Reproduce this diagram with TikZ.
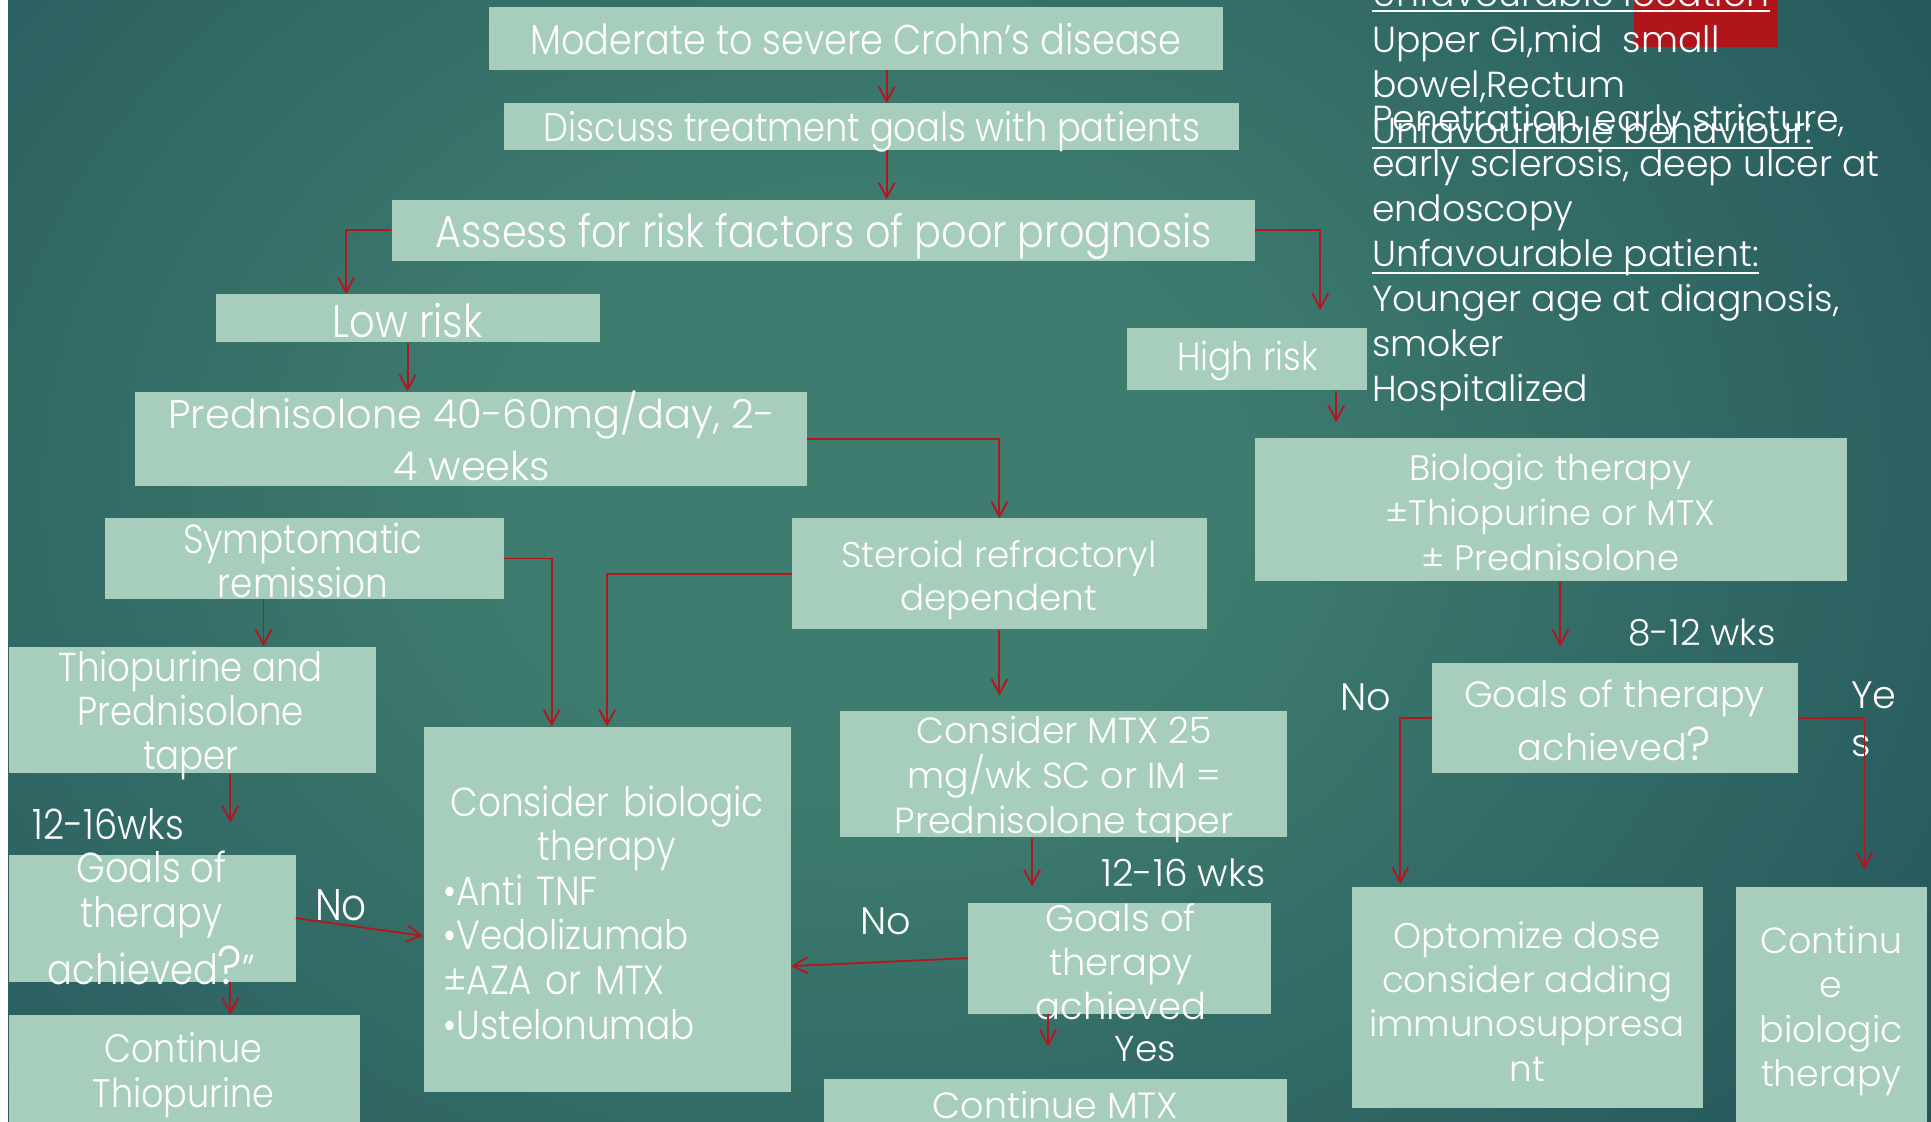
\documentclass[tikz,border=0pt]{standalone}
\usepackage{graphicx}
\usepackage{fontspec}
\setmainfont{Poppins Light}
\newfontfamily\narrowfont{Poppins Light}[FakeStretch=0.88]
\usetikzlibrary{arrows.meta,calc}

\definecolor{boxfill}{HTML}{A7CDBC}
\definecolor{arrowred}{HTML}{B3161C}
\definecolor{tagred}{HTML}{B0151A}
\definecolor{bglight}{HTML}{3E7C6F}
\definecolor{bgmid}{HTML}{2B6060}
\definecolor{bgdeep}{HTML}{1B4852}
\definecolor{bgdark}{HTML}{10333F}

\pgfdeclareradialshading{backdrop}{\pgfpoint{0bp}{0bp}}{%
  color(0bp)=(bglight); color(8bp)=(bglight); color(24bp)=(bgmid);
  color(36bp)=(bgdeep); color(46bp)=(bgdark); color(50bp)=(bgdark)}

% font helpers: regular and horizontally condensed
\newcommand\nf[2]{\fontsize{#1}{#2}\selectfont}
\newcommand\cf[2]{\narrowfont\fontsize{#1}{#2}\selectfont}
\newcommand\bq{\scalebox{1.3}{?}}

\tikzset{
  box/.style={fill=boxfill, draw=none, inner sep=0pt},
  txt/.style={text=white, align=center, inner sep=0pt},
  side/.style={text=white, inner sep=0pt, anchor=base west, font=\nf{29.4}{36.5}},
  uline/.style={draw=white, line width=1.6pt},
  arr/.style={draw=arrowred, line width=1.5pt,
    -{Straight Barb[length=12pt,width=13pt,line width=1.5pt]}},
}

\begin{document}
\begin{tikzpicture}[x=1pt,y=-1pt]
\useasboundingbox (0,0) rectangle (1568,911);
\fill[white] (0,0) rectangle (1568,911);
\begin{scope}
  \clip (6.5,0) rectangle (1568,911);
  \shade[shading=backdrop] (-200,-320) rectangle (1600,1120);
\end{scope}

\begin{scope}
\clip (0,0) rectangle (1568,911);

% ---- boxes ----
\node[box, minimum width=596pt, minimum height=51pt]  (mod)    at (695,31.5) {};
\node[box, minimum width=597pt, minimum height=38pt]  (disc)   at (707.5,103) {};
\node[box, minimum width=701pt, minimum height=50pt]  (assess) at (668.5,187) {};
\node[box, minimum width=312pt, minimum height=39pt]  (low)    at (331,258.5) {};
\node[box, minimum width=195pt, minimum height=51pt]  (high)   at (1012.5,291.5) {};
\node[box, minimum width=545pt, minimum height=77pt]  (pred)   at (382.5,356.5) {};
\node[box, minimum width=324pt, minimum height=65pt]  (symp)   at (247,453.5) {};
\node[box, minimum width=337pt, minimum height=90pt]  (ster)   at (811.5,466) {};
\node[box, minimum width=481pt, minimum height=116pt] (bio)    at (1259.5,414) {};
\node[box, minimum width=298pt, minimum height=103pt] (thio)   at (156,576.5) {};
\node[box, minimum width=298pt, minimum height=297pt] (cbio)   at (493,738.5) {};
\node[box, minimum width=363pt, minimum height=103pt] (cmtx)   at (863.5,628.5) {};
\node[box, minimum width=233pt, minimum height=103pt] (gleft)  at (123.5,745.5) {};
\node[box, minimum width=285pt, minimum height=106pt] (cthio)  at (149.5,877) {};
\node[box, minimum width=246pt, minimum height=90pt]  (gmid)   at (909,778) {};
\node[box, minimum width=376pt, minimum height=54pt]  (cmtxc)  at (857,903) {};
\node[box, minimum width=297pt, minimum height=90pt]  (gright) at (1311.5,583) {};
\node[box, minimum width=285pt, minimum height=180pt] (opt)    at (1240.5,810) {};
\node[box, minimum width=155pt, minimum height=210pt] (cbt)    at (1487.5,825) {};

% ---- box texts ----
\node[txt, font=\cf{33.8}{37}] (mod-t) at (695,32) {Moderate to severe Crohn’s disease};
\node[txt, font=\cf{32.5}{37}] (disc-t) at (708,107) {Discuss treatment goals with patients};
\node[txt, font=\cf{36.7}{40}] (assess-t) at (669,192) {Assess for risk factors of poor prognosis};
\node[txt, font=\cf{37}{40}] (low-t) at (331,260) {Low risk};
\node[txt, font=\cf{31.8}{37}] (high-t) at (1013,293) {High risk};
\node[txt, font=\nf{32.4}{42}] (pred-t) at (383,354) {Prednisolone 40-60mg/day, 2-\\4 weeks};
\node[txt, font=\cf{33}{35}] (symp-t) at (246,455) {Symptomatic\\remission};
\node[txt, font=\nf{29}{35}] (ster-t) at (811,471) {Steroid refractoryl\\dependent};
\node[txt, font=\nf{28.7}{36.5}] (bio-t) at (1259,416) {Biologic therapy\\±Thiopurine or MTX\\± Prednisolone};
\node[txt, font=\cf{32.8}{36}] (thio-t) at (155,581) {Thiopurine and\\Prednisolone\\taper};
\node[txt, text width=266pt, align=left, font=\cf{33}{36.2}] (cbio-t) at (493,741)
  {{\centering Consider biologic\\therapy\par}•Anti TNF\\•Vedolizumab\\±AZA or MTX\\•Ustelonumab};
\node[txt, font=\nf{29.5}{36.5}] (cmtx-t) at (864,633) {Consider MTX 25\\mg/wk SC or IM =\\Prednisolone taper};
\node[txt, font=\cf{34}{37}] (gleft-t) at (123,745) {Goals of\\therapy\\[5pt]achieved\bq”};
\node[txt, font=\cf{32.3}{36}] (cthio-t) at (149,873) {Continue\\Thiopurine};
\node[txt, font=\nf{30}{36}] (gmid-t) at (910,781) {Goals of\\therapy\\achieved};
\node[txt, font=\nf{29.6}{36}] (cmtxc-t) at (857,897) {Continue MTX};
\node[txt, font=\nf{29.7}{43}] (gright-t) at (1311,585) {Goals of therapy\\achieved\bq};
\node[txt, font=\nf{29}{36}] (opt-t) at (1240,813) {Optomize dose\\consider adding\\immunosuppresa\\nt};
\node[txt, font=\nf{29.5}{36}] (cbt-t) at (1487,821) {Continu\\e\\biologic\\therapy};

% ---- free labels ----
\node[txt, font=\cf{34}{36}] (wk1) at (88,669) {12-16wks};
\node[txt, font=\cf{36}{36}] (no1) at (277,735) {No};
\node[txt, font=\nf{31}{36}] (no2) at (719,748) {No};
\node[txt, font=\nf{30.4}{36}] (wk2) at (961,709) {12-16 wks};
\node[txt, font=\nf{29.2}{36}] (yes1) at (930,852) {Yes};
\node[txt, font=\nf{29.2}{36}] (wk3) at (1382,514) {8-12 wks};
\node[txt, font=\nf{31}{36}] (no3) at (1109,566) {No};
\node[txt, align=left, anchor=west, font=\nf{31}{39}] (yes2) at (1503,584) {Ye\\s};

% ---- prognosis notes ----
\fill[tagred] (1327,0) rectangle (1444,38);
\node[side] (loc)  at (1114,5)     {Unfavourable location};
\node[side] (n1)   at (1114,42.5)  {Upper GI,mid~ small};
\node[side] (n2)   at (1114,79)    {bowel,Rectum};
\node[side] (n3)   at (1114,107)   {Penetration, early stricture,};
\node[side] (beh)  at (1114,116.4) {Unfavourable behaviour:};
\node[side] (n4)   at (1114,143.5) {early sclerosis, deep ulcer at};
\node[side] (n5)   at (1114,180)   {endoscopy};
\node[side] (pat)  at (1114,216.5) {Unfavourable patient:};
\node[side] (n6)   at (1114,253)   {Younger age at diagnosis,};
\node[side] (n7)   at (1114,289.5) {smoker};
\node[side] (n8)   at (1114,326)   {Hospitalized};
\draw[uline] ($(loc.base west)+(0,3.6)$) -- ($(loc.base east)+(0,3.6)$);
\draw[uline] ($(beh.base west)+(0,3.6)$) -- ($(beh.base east)+(0,3.6)$);
\draw[uline] ($(pat.base west)+(0,4.9)$) -- ($(pat.base east)+(0,4.9)$);

% ---- connectors ----
\coordinate (xA) at (720,0);
\coordinate (xLow) at (281,0);
\coordinate (xHigh) at (1072,0);
\coordinate (xH2) at (1085,0);
\coordinate (xS) at (214,0);
\coordinate (xSR) at (448,0);
\coordinate (xT) at (187,0);
\coordinate (xM) at (838,0);
\coordinate (xG) at (851,0);
\coordinate (xB) at (1267,0);
\coordinate (xN) at (1137,0);
\coordinate (xY) at (1514,0);

\draw[arr] (mod.south -| xA) -- (disc.north -| xA);
\draw[arr] (disc.south -| xA) -- (assess.north -| xA);
\draw[arr] (assess.west) -| (low.north -| xLow);
\draw[arr, shorten >=14pt] (assess.east) -| (high.north -| xHigh);
\draw[arr] (low.south) -- (low.south |- pred.north);
\draw[arr, shorten >=13pt] (high.south -| xH2) -- (bio.north -| xH2);
\draw[arr] (pred.east) -| (ster.north);
\draw[arr] (symp.south -| xS) -- (thio.north -| xS);
\draw[arr] (symp.east) -| (cbio.north -| xSR);
\draw[arr] (ster.west) -| (cbio.north);
\draw[arr, shorten >=12pt] (ster.south) -- (ster.south |- cmtx.north);
\draw[arr, shorten >=26pt] (thio.south -| xT) -- (gleft.north -| xT);
\draw[arr] (gleft.east) -- ($(cbio.west)+(0,21.5)$);
\draw[arr] (gleft.south -| xT) -- (cthio.north -| xT);
\draw[arr, shorten >=13pt] (cmtx.south -| xM) -- (gmid.north -| xM);
\draw[arr] (gmid.west) -- ($(cbio.east)+(0,46)$);
\draw[arr, shorten >=26pt] (gmid.south -| xG) -- (cmtxc.north -| xG);
\draw[arr, shorten >=13pt] (bio.south -| xB) -- (gright.north -| xB);
\draw[arr, shorten >=2pt] (gright.west) -| (opt.north -| xN);
\draw[arr, shorten >=14pt] (gright.east) -| (cbt.north -| xY);
\end{scope}
\end{tikzpicture}
\end{document}
